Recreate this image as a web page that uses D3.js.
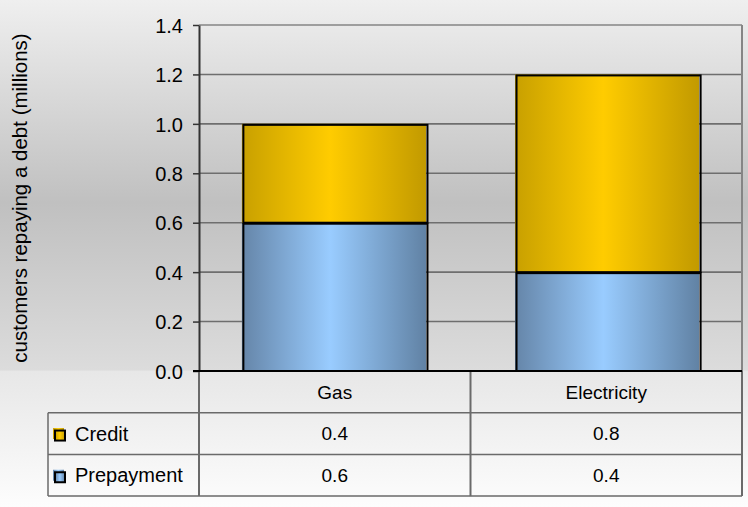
<!DOCTYPE html>
<html>
<head>
<meta charset="utf-8">
<script src="https://cdn.jsdelivr.net/npm/d3@7"></script>
<style>
  body { margin: 0; background: #fff; }
  svg { display: block; font-family: "Liberation Sans", Arial, sans-serif; }
</style>
</head>
<body>
<div id="chart"></div>
<script>
// data
var categories = ["Gas", "Electricity"];
var seriesNames = ["Prepayment", "Credit"];
var prepayment = [0.6, 0.4];
var credit = [0.4, 0.8];
var yTicks = [0.0, 0.2, 0.4, 0.6, 0.8, 1.0, 1.2, 1.4];
var yLabel = "customers repaying a debt (millions)";

var W = 748, H = 507;
var plot = { left: 199, right: 742, top: 25, bottom: 371 };
var tableLeft = 48, rowH = 41.7;

var svg = d3.select("#chart").append("svg")
    .attr("width", W)
    .attr("height", H);

var defs = svg.append("defs");

// background gradient
var bg = defs.append("linearGradient").attr("id", "bg")
    .attr("x1", 0).attr("y1", 0).attr("x2", 0).attr("y2", 1);
[[0, "#efefef"], [0.4, "#c0c0c0"], [0.73, "#dcdcdc"], [0.732, "#e7e7e7"], [1, "#fdfdfd"]]
    .forEach(function (s) { bg.append("stop").attr("offset", s[0]).attr("stop-color", s[1]); });

// bar gradients (horizontal)
function barGrad(id, edgeL, mid, edgeR) {
    var g = defs.append("linearGradient").attr("id", id)
        .attr("x1", 0).attr("y1", 0).attr("x2", 1).attr("y2", 0);
    g.append("stop").attr("offset", 0).attr("stop-color", edgeL);
    g.append("stop").attr("offset", 0.48).attr("stop-color", mid);
    g.append("stop").attr("offset", 1).attr("stop-color", edgeR);
}
barGrad("gCredit", "#c8a000", "#ffcc00", "#c29a00");
barGrad("gPrepayment", "#6585a8", "#99ccff", "#6182a4");
var fills = { Credit: "url(#gCredit)", Prepayment: "url(#gPrepayment)" };

svg.append("rect").attr("width", W).attr("height", H).attr("fill", "url(#bg)");

// scales
var x = d3.scaleBand()
    .domain(categories)
    .range([plot.left, plot.right])
    .paddingInner(0.326)
    .paddingOuter(0.157);

var xCol = d3.scaleBand().domain(categories).range([plot.left, plot.right]);

var y = d3.scaleLinear().domain([0, 1.4]).range([plot.bottom, plot.top]);

// gridlines
svg.append("g")
    .selectAll("line")
    .data(yTicks.filter(function (d) { return d > 0; }))
    .enter().append("line")
    .attr("x1", plot.left).attr("x2", plot.right)
    .attr("y1", function (d) { return y(d); })
    .attr("y2", function (d) { return y(d); })
    .attr("stroke", function (d) { return d === 1.4 ? "#858585" : "#6e6e6e"; })
    .attr("stroke-width", 1.6);

// right border of plot area
svg.append("line")
    .attr("x1", plot.right).attr("x2", plot.right)
    .attr("y1", y(1.4)).attr("y2", plot.bottom)
    .attr("stroke", "#858585").attr("stroke-width", 2);

// stacked bars
var rows = categories.map(function (c, i) {
    return { cat: c, Prepayment: prepayment[i], Credit: credit[i] };
});
var stack = d3.stack().keys(seriesNames)(rows);

var layers = svg.append("g").selectAll("g")
    .data(stack)
    .enter().append("g");

layers.selectAll("rect.fill")
    .data(function (s) { return s.map(function (d) { return { key: s.key, d: d }; }); })
    .enter().append("rect")
    .attr("class", "fill")
    .attr("x", function (p) { return x(p.d.data.cat); })
    .attr("y", function (p) { return y(p.d[1]); })
    .attr("width", x.bandwidth())
    .attr("height", function (p) { return y(p.d[0]) - y(p.d[1]); })
    .attr("fill", function (p) { return fills[p.key]; });

layers.selectAll("rect.edge")
    .data(function (s) { return s.map(function (d) { return { key: s.key, d: d }; }); })
    .enter().append("rect")
    .attr("class", "edge")
    .attr("x", function (p) { return x(p.d.data.cat) + 1.5; })
    .attr("y", function (p) { return y(p.d[1]) + 1; })
    .attr("width", x.bandwidth())
    .attr("height", function (p) { return y(p.d[0]) - y(p.d[1]) - 1; })
    .attr("fill", "none")
    .attr("stroke", "#000")
    .attr("stroke-width", 2);

// y axis
var yAxis = svg.append("g")
    .attr("transform", "translate(" + plot.left + ",0)")
    .call(d3.axisLeft(y).tickValues(yTicks).tickFormat(d3.format(".1f")).tickSize(6).tickSizeOuter(0));
yAxis.select(".domain").attr("stroke", "#333").attr("stroke-width", 2);
yAxis.selectAll(".tick line").attr("stroke", "#333").attr("stroke-width", 1.5);
yAxis.selectAll(".tick text")
    .attr("x", -16)
    .attr("dy", "0.36em")
    .style("font-size", "20px")
    .style("font-family", "Liberation Sans, Arial, sans-serif")
    .attr("fill", "#000");

// y label
svg.append("text")
    .attr("transform", "translate(27," + ((plot.top + plot.bottom) / 2) + ") rotate(-90)")
    .attr("text-anchor", "middle")
    .style("font-size", "20.5px")
    .attr("fill", "#000")
    .text(yLabel);

// data table
var tableRows = ["cat", "Credit", "Prepayment"];
var rowY = d3.scaleBand().domain(tableRows).range([plot.bottom, plot.bottom + rowH * 3]);
var tableBottom = plot.bottom + rowH * 3;
var tbl = svg.append("g");

// horizontal lines
["Credit", "Prepayment"].forEach(function (r) {
    tbl.append("line")
        .attr("x1", tableLeft).attr("x2", plot.right)
        .attr("y1", rowY(r)).attr("y2", rowY(r))
        .attr("stroke", "#6a6a6a").attr("stroke-width", 1.5);
});
tbl.append("line")
    .attr("x1", tableLeft).attr("x2", plot.right)
    .attr("y1", tableBottom).attr("y2", tableBottom)
    .attr("stroke", "#6a6a6a").attr("stroke-width", 1.5);
// left border of legend column
tbl.append("line")
    .attr("x1", tableLeft).attr("x2", tableLeft)
    .attr("y1", rowY("Credit")).attr("y2", tableBottom)
    .attr("stroke", "#6a6a6a").attr("stroke-width", 1.5);
// column dividers
[plot.left, xCol("Electricity"), plot.right].forEach(function (cx) {
    tbl.append("line")
        .attr("x1", cx).attr("x2", cx)
        .attr("y1", plot.bottom).attr("y2", tableBottom)
        .attr("stroke", "#6a6a6a").attr("stroke-width", 2);
});

// x axis line
svg.append("line")
    .attr("x1", plot.left - 6).attr("x2", plot.right)
    .attr("y1", plot.bottom).attr("y2", plot.bottom)
    .attr("stroke", "#000").attr("stroke-width", 2);

// category headers
tbl.selectAll("text.cat")
    .data(categories)
    .enter().append("text")
    .attr("class", "cat")
    .attr("x", function (d) { return xCol(d) + xCol.bandwidth() / 2; })
    .attr("y", rowY("cat") + rowY.bandwidth() / 2)
    .attr("dy", "0.36em")
    .attr("text-anchor", "middle")
    .style("font-size", "19px")
    .text(function (d) { return d; });

// value rows
var values = { Credit: credit, Prepayment: prepayment };
["Credit", "Prepayment"].forEach(function (r) {
    var cy = rowY(r) + rowY.bandwidth() / 2;
    tbl.selectAll("text.v" + r)
        .data(values[r])
        .enter().append("text")
        .attr("x", function (d, i) { return xCol(categories[i]) + xCol.bandwidth() / 2; })
        .attr("y", cy)
        .attr("dy", "0.36em")
        .attr("text-anchor", "middle")
        .style("font-size", "19px")
        .text(function (d) { return d3.format(".1f")(d); });

    // legend key
    tbl.append("rect")
        .attr("x", tableLeft + 5).attr("y", cy - 5.5)
        .attr("width", 11).attr("height", 11)
        .attr("fill", fills[r]);
    tbl.append("rect")
        .attr("x", tableLeft + 7).attr("y", cy - 3)
        .attr("width", 10).attr("height", 10)
        .attr("fill", fills[r])
        .attr("stroke", "#000").attr("stroke-width", 2);
    tbl.append("text")
        .attr("x", tableLeft + 27)
        .attr("y", cy)
        .attr("dy", "0.36em")
        .style("font-size", "20px")
        .text(r);
});
</script>
</body>
</html>
